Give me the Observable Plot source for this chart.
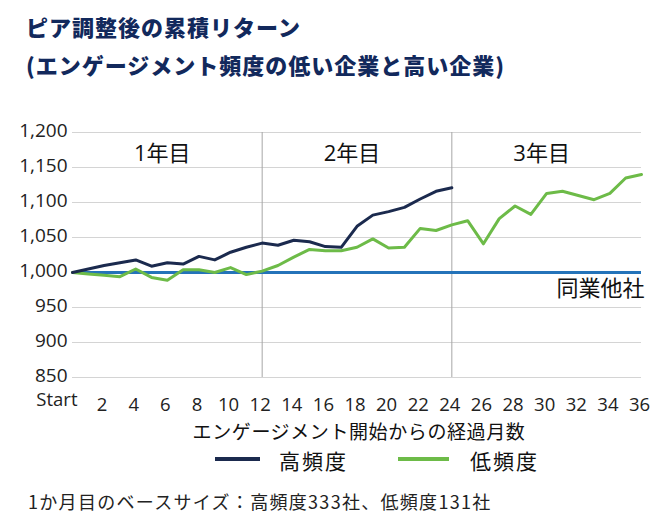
<!DOCTYPE html>
<html>
<head>
<meta charset="utf-8">
<script src="https://cdn.jsdelivr.net/npm/d3@7"></script>
<script src="https://cdn.jsdelivr.net/npm/@observablehq/plot@0.6"></script>
<style>
  html, body { margin: 0; padding: 0; background: #fff; }
  #root { position: relative; width: 664px; height: 525px; overflow: hidden; font-family: "Noto Sans CJK JP", "Open Sans", sans-serif; color: #1a1a1a; }
  .abs { position: absolute; white-space: nowrap; }
  .title { color: #12295c; font-weight: 900; font-size: 22px; line-height: 30px; left: 26px; letter-spacing: 1px; }
  #chart { position: absolute; left: 0; top: 80px; }
  .leg-line { position: absolute; height: 4px; }
</style>
</head>
<body>
<div id="root">
  <div class="abs title" style="top:11px;">ピア調整後の累積リターン</div>
  <div class="abs title" style="top:49px;">(エンゲージメント頻度の低い企業と高い企業)</div>
  <div class="abs" style="left:13px; top:91px; font-family:'Open Sans',sans-serif; font-size:19px; line-height:24px; color:#222;">USD</div>
  <div id="chart"></div>
  <div class="abs" style="left:0; width:718px; text-align:center; top:421px; font-size:19px; line-height:20px; letter-spacing:0.6px; color:#111;">エンゲージメント開始からの経過月数</div>
  <div class="leg-line" style="left:215px; width:45px; top:457px; background:#1b2a4e;"></div>
  <div class="abs" style="left:279px; top:449px; font-size:21px; line-height:22px; letter-spacing:2px; color:#111;">高頻度</div>
  <div class="leg-line" style="left:398px; width:51px; top:457px; background:#6dbb48;"></div>
  <div class="abs" style="left:470px; top:449px; font-size:21px; line-height:22px; letter-spacing:2px; color:#111;">低頻度</div>
  <div class="abs" style="left:28px; top:489px; font-size:18px; line-height:24px; letter-spacing:1.3px; color:#222;">1か月目のベースサイズ：高頻度333社、低頻度131社</div>
</div>
<script>
// Months since start of engagement (0 = "Start")
const months = [0,1,2,3,4,5,6,7,8,9,10,11,12,13,14,15,16,17,18,19,20,21,22,23,24,25,26,27,28,29,30,31,32,33,34,35,36];
// High-frequency engagement (months 0-24)
const highFreq = [1000,1005,1010,1014,1018,1009,1014,1012,1023,1018,1029,1036,1042,1039,1046,1044,1037,1036,1066,1082,1087,1093,1105,1116,1121];
// Low-frequency engagement (months 0-36)
const lowFreq = [1000,998,996,994,1005,993,989,1004,1004,1000,1007,997,1002,1010,1022,1033,1031,1031,1036,1048,1035,1036,1063,1060,1068,1074,1041,1077,1095,1083,1113,1116,1110,1104,1113,1135,1140];
// Peer baseline
const peerValue = [1000];
const peerLabel = "同業他社";
// Axis ticks
const yTicks = [850,900,950,1000,1050,1100,1150,1200];
const xTicks = [2,4,6,8,10,12,14,16,18,20,22,24,26,28,30,32,34,36];
const startLabel = "Start";
// Year dividers and labels
const yearDividers = [12,24];
const yearLabels = ["1年目","2年目","3年目"];
const yearLabelMonths = [6,18,30];
const yearLabelY = 1170;

const highData = highFreq.map((v,i) => ({month: months[i], value: v}));
const lowData = lowFreq.map((v,i) => ({month: months[i], value: v}));
const yearData = yearLabels.map((t,i) => ({label: t, month: yearLabelMonths[i]}));

const chart = Plot.plot({
  width: 664,
  height: 345,
  marginTop: 52,
  marginLeft: 72,
  marginRight: 23,
  marginBottom: 48,
  style: {fontFamily: "'Open Sans', 'Noto Sans CJK JP', sans-serif", fontSize: "19px", color: "#222", background: "white"},
  x: {domain: [0, 36]},
  y: {domain: [850, 1200]},
  marks: [
    Plot.ruleY(yTicks, {stroke: "#d4d4d4", strokeWidth: 1}),
    Plot.ruleX(yearDividers, {stroke: "#a6a6a6", strokeWidth: 1}),
    Plot.ruleY(peerValue, {stroke: "#2473b9", strokeWidth: 3}),
    Plot.line(lowData, {x: "month", y: "value", stroke: "#6dbb48", strokeWidth: 3}),
    Plot.line(highData, {x: "month", y: "value", stroke: "#1b2a4e", strokeWidth: 3}),
    Plot.axisY({ticks: yTicks, tickSize: 0, tickPadding: 5, tickFormat: d3.format(","), label: null, fontSize: 19, dy: -2}),
    Plot.axisX({ticks: xTicks, tickSize: 0, tickPadding: 20, tickFormat: d => String(d), label: null, fontSize: 18.5, dx: -2}),
    Plot.text([startLabel], {x: 0, frameAnchor: "bottom", dy: 28, textAnchor: "end", dx: 5, fontSize: 18.5, text: d => d}),
    Plot.text(yearData, {x: "month", y: yearLabelY, text: "label", fontSize: 22, fill: "#111", dx: -5, letterSpacing: 1}),
    Plot.text([peerLabel], {x: 36, y: 977, text: d => d, textAnchor: "end", fontSize: 22, fill: "#111", dx: 3, letterSpacing: 2})
  ]
});
document.getElementById("chart").appendChild(chart);
</script>
</body>
</html>
